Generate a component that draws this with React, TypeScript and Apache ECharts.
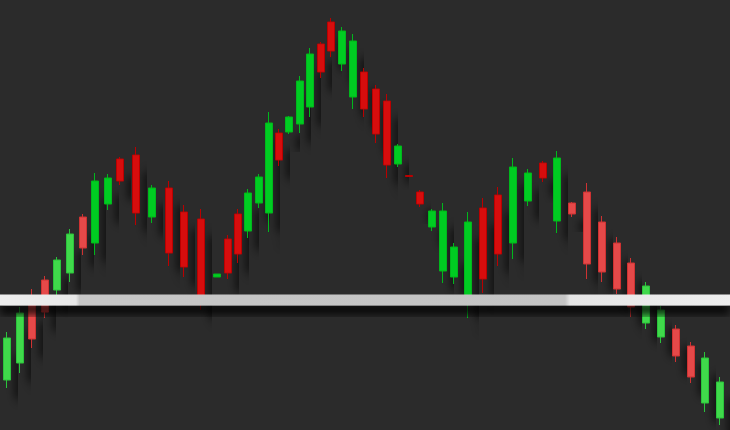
import React, { useEffect, useRef } from "react";
import * as echarts from "echarts";

// time positions (trading-time units) of each candle
const times = [7, 20, 32, 45, 57, 70, 83, 95, 108, 120, 136, 152, 169, 184, 201, 217, 228, 238, 248, 259, 269, 279, 289, 300, 310, 321, 331, 342, 353, 364, 376, 387, 398, 409, 420, 432, 443, 454, 468, 483, 498, 513, 528, 543, 557, 572, 587, 602, 617, 631, 646, 661, 676, 691, 705, 720];
const opens = [92.0, 93.7, 99.5, 102.0, 101.0, 102.7, 108.3, 105.7, 109.6, 114.1, 114.5, 108.3, 111.2, 108.8, 108.1, 102.3, 106.1, 108.6, 106.9, 109.7, 108.7, 116.7, 116.8, 117.6, 119.3, 125.6, 127.8, 123.6, 120.3, 122.8, 121.1, 119.9, 113.6, 112.45, 110.8, 107.3, 102.9, 102.3, 100.0, 109.2, 110.5, 105.7, 109.9, 113.7, 107.9, 109.7, 110.8, 107.8, 105.7, 103.7, 97.7, 96.3, 97.1, 95.4, 89.7, 88.2];
const closes = [96.2, 98.7, 96.1, 98.8, 104.0, 106.6, 105.2, 111.9, 112.2, 111.9, 108.7, 111.2, 104.7, 103.3, 100.0, 102.6, 102.7, 104.6, 110.7, 112.3, 117.7, 114.0, 118.3, 121.9, 124.6, 122.8, 124.9, 126.9, 125.9, 119.1, 116.6, 113.5, 115.4, 112.35, 109.6, 108.9, 108.9, 105.3, 107.8, 102.1, 104.6, 113.3, 112.7, 112.2, 114.2, 108.6, 103.6, 102.8, 101.1, 99.3, 101.4, 99.0, 94.4, 92.3, 94.2, 91.8];
const lows = [91.2, 92.7, 95.2, 98.2, 100.5, 101.8, 104.5, 104.5, 109.0, 111.5, 107.5, 107.7, 103.4, 102.3, 99.0, 102.3, 102.1, 103.7, 106.2, 109.2, 106.8, 113.4, 116.6, 116.7, 118.3, 122.2, 124.3, 122.9, 119.1, 118.3, 115.7, 112.2, 113.3, 112.35, 109.3, 106.9, 101.7, 101.6, 98.2, 100.7, 103.4, 104.1, 109.4, 111.8, 106.7, 108.3, 102.1, 101.8, 100.6, 98.3, 97.1, 95.7, 93.8, 91.7, 88.8, 87.5];
const highs = [96.8, 99.3, 101.1, 102.4, 104.3, 107.1, 108.6, 112.7, 112.6, 114.3, 115.3, 111.5, 111.9, 109.5, 109.1, 102.6, 106.5, 109.1, 111.1, 112.6, 118.8, 117.1, 118.4, 122.4, 125.2, 125.8, 128.2, 127.3, 126.6, 123.2, 121.5, 120.6, 115.6, 112.45, 111.0, 109.1, 109.7, 105.7, 108.8, 110.2, 111.3, 114.2, 113.1, 113.9, 114.9, 109.8, 111.7, 108.4, 106.3, 104.2, 101.8, 99.4, 97.5, 95.8, 94.8, 92.3];
const neckline = 100;
const necklineBand = [99.45, 100.55];
const timeRange = [0, 730];
const priceRange = [87, 130];

export default function App() {
  const ref = useRef<HTMLDivElement>(null);
  useEffect(() => {
    if (!ref.current) return;
    const chart = echarts.init(ref.current, null, { renderer: "svg" });
    const data = times.map((t, i) => {
      const light = t < 90 || t > 565;
      const up = closes[i] > opens[i];
      const fill = light ? (up ? "#3fd94c" : "#e54848") : up ? "#05cc22" : "#d70a0a";
      const stroke = light ? (up ? "#2cc43a" : "#cf3232") : up ? "#03b81d" : "#bb0606";
      return {
        value: [t, opens[i], closes[i], lows[i], highs[i]],
        itemStyle: { color: fill, color0: fill, borderColor: stroke, borderColor0: stroke },
      };
    });
    const barGrad = new echarts.graphic.LinearGradient(
      0, 0, 730, 0,
      [
        { offset: 0, color: "#eeeeee" },
        { offset: 0.104, color: "#e8e8e8" },
        { offset: 0.109, color: "#c7c7c7" },
        { offset: 0.774, color: "#c4c4c4" },
        { offset: 0.781, color: "#e6e6e6" },
        { offset: 1, color: "#eeeeee" },
      ],
      true
    );
    chart.setOption({
      animation: false,
      backgroundColor: "#2b2b2b",
      grid: { left: 0, right: 0, top: 0, bottom: 0 },
      xAxis: { type: "value", min: timeRange[0], max: timeRange[1], show: false, splitLine: { show: false } },
      yAxis: { type: "value", min: priceRange[0], max: priceRange[1], show: false, splitLine: { show: false } },
      series: [
        {
          type: "candlestick",
          name: "Price",
          encode: { x: 0, y: [1, 2, 3, 4] },
          barWidth: 8,
          data,
          z: 2,
          itemStyle: {
            borderWidth: 1,
            shadowBlur: 8,
            shadowColor: "rgba(0,0,0,0.7)",
            shadowOffsetX: 12,
            shadowOffsetY: 18,
          },
          emphasis: { disabled: true },
          markArea: {
            z: 10,
            silent: true,
            label: { show: false },
            emphasis: { disabled: true },
            itemStyle: {
              color: barGrad,
              opacity: 1,
              borderWidth: 0,
              shadowBlur: 8,
              shadowColor: "rgba(0,0,0,0.85)",
              shadowOffsetY: 9,
            },
            data: [[{ yAxis: necklineBand[0], name: "neckline " + neckline }, { yAxis: necklineBand[1] }]],
          },
        },
      ],
    });
    return () => chart.dispose();
  }, []);
  return (
    <div
      ref={ref}
      style={{ position: "absolute", left: 0, top: 0, width: 730, height: 430, background: "#2b2b2b" }}
    />
  );
}
